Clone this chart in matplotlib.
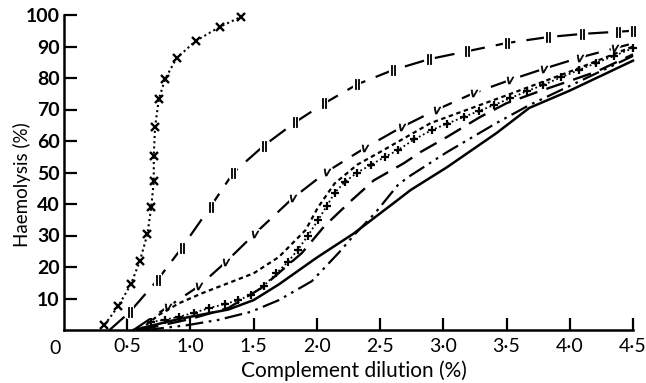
import matplotlib.pyplot as plt
import matplotlib.transforms as mtransforms

plt.rcParams['font.family'] = ['Lato', 'DejaVu Sans']

# curve 1: dotted with x markers
c1_x = [0.32, 0.43, 0.53, 0.60, 0.66, 0.69, 0.71, 0.71, 0.72, 0.75, 0.80, 0.89, 1.04, 1.23, 1.40]
c1_y = [1.6, 7.6, 14.6, 21.9, 30.5, 39.0, 47.3, 55.2, 64.4, 73.3, 79.7, 86.3, 91.7, 96.2, 99.4]

# curve 2: long dash with || marks
c2_x = [0.36, 0.52, 0.74, 0.93, 1.16, 1.34, 1.58, 1.83, 2.06, 2.32, 2.60, 2.89, 3.19, 3.50, 3.83, 4.10, 4.38, 4.50]
c2_y = [0.0, 5.7, 15.9, 26.0, 39.2, 50.0, 58.5, 66.0, 72.0, 78.0, 82.5, 86.0, 88.5, 91.1, 93.0, 94.0, 94.7, 95.0]

# curve 3: long dash with v marks
c3_x = [0.55, 0.82, 1.07, 1.28, 1.51, 1.81, 2.08, 2.38, 2.67, 2.95, 3.24, 3.53, 3.80, 4.08, 4.36, 4.50]
c3_y = [0.0, 7.3, 14.0, 21.6, 30.6, 41.9, 50.3, 57.8, 64.4, 70.0, 75.2, 79.4, 83.0, 86.5, 89.5, 91.0]

# curve 4: short dashes
c4_x = [0.60, 0.75, 0.91, 1.10, 1.30, 1.50, 1.70, 1.91, 2.01, 2.14, 2.32, 2.50, 2.90, 3.50, 4.00, 4.50]
c4_y = [0.0, 4.8, 8.5, 11.8, 14.9, 18.0, 23.2, 31.7, 39.0, 46.5, 52.5, 56.5, 65.7, 74.5, 82.0, 90.0]

# curve 5: dotted with + markers
c5_x = [0.69, 0.80, 0.91, 1.03, 1.15, 1.27, 1.38, 1.48, 1.58, 1.68, 1.77, 1.85, 1.93, 2.01, 2.08, 2.14,
        2.22, 2.32, 2.43, 2.54, 2.64, 2.77, 2.91, 3.03, 3.16, 3.28, 3.40, 3.53, 3.66, 3.79, 3.93, 4.07,
        4.21, 4.35, 4.50]
c5_y = [2.5, 3.3, 4.2, 5.5, 7.0, 8.2, 9.5, 11.2, 14.0, 18.0, 21.6, 25.5, 30.0, 34.9, 39.5, 43.5,
        47.0, 50.0, 52.5, 55.0, 57.1, 60.5, 63.5, 65.5, 67.6, 69.5, 71.4, 73.6, 75.8, 77.8, 80.2, 82.5,
        84.8, 87.0, 89.5]

# curve 6: long dash
c6_x = [0.60, 1.00, 1.30, 1.56, 1.88, 2.06, 2.27, 2.45, 2.69, 2.82, 3.03, 3.29, 3.50, 3.74, 4.21, 4.50]
c6_y = [0.0, 3.5, 7.0, 13.3, 24.4, 33.0, 41.0, 47.5, 53.0, 56.5, 61.3, 67.6, 72.0, 75.5, 82.0, 87.5]

# curve 7: solid
c7_x = [0.55, 0.91, 1.30, 1.50, 1.70, 2.00, 2.29, 2.64, 2.74, 3.03, 3.42, 3.68, 4.00, 4.50]
c7_y = [0.0, 3.5, 6.5, 9.5, 14.5, 23.0, 30.6, 41.3, 44.4, 51.7, 62.5, 70.5, 76.0, 85.5]

# curve 8: dash-dot-dot
c8_x = [0.65, 0.97, 1.22, 1.48, 1.70, 1.96, 2.17, 2.30, 2.46, 2.64, 2.72, 3.03, 3.42, 3.68, 4.00, 4.50]
c8_y = [0.0, 1.5, 3.2, 5.8, 9.5, 15.5, 24.4, 30.4, 37.1, 46.0, 48.5, 56.5, 65.7, 71.4, 77.5, 87.0]

x_ticks = [0.5, 1.0, 1.5, 2.0, 2.5, 3.0, 3.5, 4.0, 4.5]
x_labels = ['0·5', '1·0', '1·5', '2·0', '2·5', '3·0', '3·5', '4·0', '4·5']
y_ticks = [10, 20, 30, 40, 50, 60, 70, 80, 90, 100]

fig = plt.figure(figsize=(6.46, 3.83), dpi=100)
ax = fig.add_axes([64 / 646, 53 / 383, 569 / 646, 315 / 383])

k = 'black'

ax.plot(c1_x, c1_y, color=k, lw=1.5, ls=(0, (1, 1.5)), marker='x', ms=6, mew=1.7, clip_on=False)

# || and v marks get a white halo so the dashes look broken round them
ax.plot(c2_x, c2_y, color=k, lw=1.6, ls=(0, (9, 5)), clip_on=False)
ax.plot(c2_x[1:], c2_y[1:], ls='none', marker=r'$||$', ms=7, mfc='white', mec='white', mew=3, clip_on=False)
ax.plot(c2_x[1:], c2_y[1:], ls='none', marker=r'$||$', ms=7, color=k, mew=0.6, clip_on=False)

ax.plot(c3_x, c3_y, color=k, lw=1.6, ls=(0, (9, 5)), clip_on=False)
ax.plot(c3_x[1:-1], c3_y[1:-1], ls='none', marker=r'$v$', ms=5, mfc='white', mec='white', mew=3)
ax.plot(c3_x[1:-1], c3_y[1:-1], ls='none', marker=r'$v$', ms=5, color=k, mew=0.5)

ax.plot(c4_x, c4_y, color=k, lw=1.6, ls=(0, (2, 1.6)), clip_on=False)
ax.plot(c5_x, c5_y, color=k, lw=1.3, ls=(0, (1, 1.5)), marker='+', ms=6, mew=1.6, clip_on=False)
ax.plot(c6_x, c6_y, color=k, lw=1.7, ls=(0, (8, 4)), clip_on=False)
ax.plot(c7_x, c7_y, color=k, lw=1.8, ls='-', clip_on=False)
ax.plot(c8_x, c8_y, color=k, lw=1.6, ls=(0, (8, 2.5, 1.2, 2.5, 1.2, 2.5)), clip_on=False)

ax.set_xlim(0, 4.5)
ax.set_ylim(0, 100)
ax.spines['top'].set_visible(False)
ax.spines['right'].set_visible(False)
ax.spines['left'].set_linewidth(1.8)
ax.spines['bottom'].set_linewidth(1.8)

ax.set_xticks(x_ticks)
ax.set_xticklabels(x_labels)
ax.set_yticks(y_ticks)
ax.tick_params(axis='both', direction='in', length=9, width=1.6, labelsize=14)
ax.tick_params(axis='x', pad=6)
ax.tick_params(axis='y', pad=3)
for t in ax.get_yticklabels():
    t.set_fontweight('bold')

trans = mtransforms.blended_transform_factory(ax.transData, ax.get_xaxis_transform())
ax.text(-0.07, -0.033, '0', transform=trans, ha='center', va='top', fontsize=14)

ax.set_xlabel('Complement dilution (%)', fontsize=15)
ax.set_ylabel('Haemolysis (%)', fontsize=13.5)
ax.xaxis.set_label_coords(0.51, -0.095)
ax.yaxis.set_label_coords(-0.058, 0.46)

fig.savefig('out.png', dpi=100)
